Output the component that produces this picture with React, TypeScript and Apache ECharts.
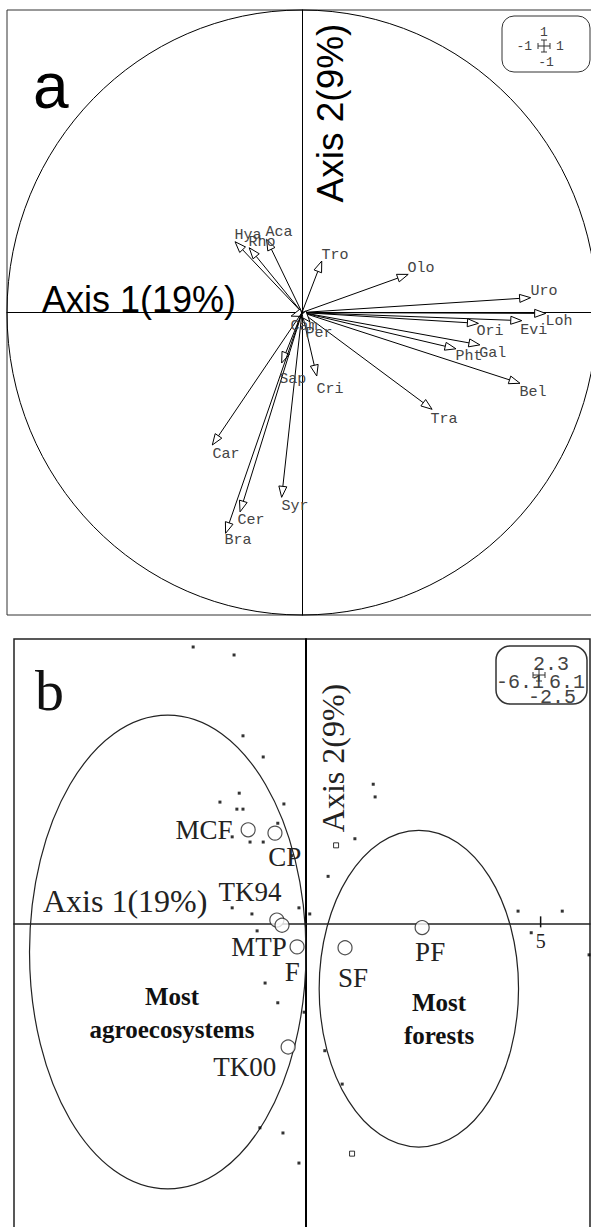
import React, { useEffect, useRef } from "react";
import * as echarts from "echarts";

// ---------- Panel a : correlation circle (species arrows) ----------
const species = ["Hya", "Rho", "Aca", "Tro", "Olo", "Uro", "Loh", "Evi", "Ori", "Gal", "Pht", "Bel", "Tra", "Cri", "Per", "Cam", "Sap", "Car", "Cer", "Bra", "Syr"];
const arrowX = [-0.227, -0.179, -0.12, 0.067, 0.36, 0.775, 0.826, 0.745, 0.598, 0.603, 0.522, 0.739, 0.441, 0.05, 0.027, -0.037, -0.069, -0.304, -0.21, -0.259, -0.069];
const arrowY = [0.234, 0.214, 0.242, 0.17, 0.126, 0.049, -0.003, -0.027, -0.036, -0.107, -0.12, -0.234, -0.32, -0.21, -0.031, -0.012, -0.167, -0.438, -0.659, -0.73, -0.611];
const labelX = [-0.183, -0.136, -0.078, 0.112, 0.403, 0.82, 0.871, 0.786, 0.637, 0.647, 0.566, 0.783, 0.481, 0.095, 0.058, 0.007, -0.031, -0.258, -0.173, -0.217, -0.024];
const labelY = [0.256, 0.233, 0.263, 0.187, 0.144, 0.068, -0.031, -0.058, -0.064, -0.137, -0.147, -0.263, -0.355, -0.253, -0.071, -0.045, -0.22, -0.468, -0.689, -0.755, -0.64];
const circleRadius = 1;

// ---------- Panel b : sites, groups and species points ----------
const sites = ["MCF", "CP", "TK94", "MTP", "F", "SF", "PF", "TK00"];
const siteX = [-1.22, -0.65, -0.61, -0.5, -0.18, 0.84, 2.48, -0.37];
const siteY = [1.99, 1.92, 0.07, -0.04, -0.5, -0.52, -0.09, -2.63];
const siteLabelX = [-2.16, -0.44, -1.18, -0.99, -0.28, 1.01, 2.65, -1.29];
const siteLabelY = [1.99, 1.41, 0.67, -0.5, -1.03, -1.16, -0.61, -3.06];

const groupNames = ["Most\nagroecosystems", "Most\nforests"];
const groupCx = [-2.93, 2.41];
const groupCy = [-0.61, -1.39];
const groupRx = [2.94, 2.12];
const groupRy = [5.04, 3.37];
const groupLabelX = [-2.84, 2.84];
const groupLabelY = [-1.91, -2.04];

const dotX = [-2.39, -1.52, -1.33, -0.9, -1.41, -1.82, -1.46, -1.33, -0.46, -1.56, -1.18, -0.9, -0.59, 1.44, 1.48, 1.05, 0.48, -1.56, -1.14, -0.14, 0.09, -1.03, -0.86, -0.59, -0.03, 0.41, 0.78, -0.97, -0.48, -0.14, 4.52, 5.46, 4.8, 6.03, -0.29];
const dotY = [5.88, 5.71, 3.99, 3.54, 2.77, 2.58, 2.43, 2.43, 2.54, 1.84, 1.73, 1.73, 2.13, 2.96, 2.69, 1.8, 1.0, 0.33, 0.2, 0.33, 0.2, -0.16, -1.27, -1.69, -1.89, -2.71, -3.42, -4.35, -4.46, -5.1, 0.26, 0.26, -0.2, -0.67, 1.44];
const openX = [0.65, 0.99];
const openY = [1.66, -4.9];
const bTicks = [5];

const MONO = "'Courier New', 'Liberation Mono', monospace";
const SANS = "'Liberation Sans', Arial, sans-serif";
const SERIF = "'Liberation Serif', 'Times New Roman', serif";

function txt(x: number, y: number, text: string, font: string, size: number, opts: any = {}) {
  return {
    type: "text",
    x,
    y,
    rotation: opts.rotation || 0,
    z: 20,
    style: {
      text,
      fontFamily: font,
      fontSize: size,
      fontWeight: opts.weight || "normal",
      fill: opts.color || "#111",
      align: opts.align || "left",
      verticalAlign: "middle",
      textAlign: opts.align || "left",
      textVerticalAlign: "middle",
    },
  };
}

function crossIcon(cx: number, cy: number) {
  const s = { stroke: "#333", lineWidth: 1 };
  const L = (x1: number, y1: number, x2: number, y2: number) => ({ type: "line", z: 20, shape: { x1, y1, x2, y2 }, style: s });
  return [
    L(cx - 6, cy, cx + 6, cy),
    L(cx, cy - 6, cx, cy + 6),
    L(cx - 6, cy - 3, cx - 6, cy + 3),
    L(cx + 6, cy - 3, cx + 6, cy + 3),
    L(cx - 3, cy - 6, cx + 3, cy - 6),
    L(cx - 3, cy + 6, cx + 3, cy + 6),
  ];
}

function buildOption() {
  const arrowData = species.map((n, i) => [arrowX[i], arrowY[i], n]);
  const arrowLabelData = species.map((n, i) => [labelX[i], labelY[i], n]);
  const siteData = sites.map((n, i) => [siteX[i], siteY[i], n]);
  const siteLabelData = sites.map((n, i) => [siteLabelX[i], siteLabelY[i], n]);
  const groupData = groupNames.map((n, i) => [groupCx[i], groupCy[i], groupRx[i], groupRy[i], n]);
  const groupLabelData = groupNames.map((n, i) => [groupLabelX[i], groupLabelY[i], n]);
  const dotData = dotX.map((x, i) => [x, dotY[i]]);
  const openData = openX.map((x, i) => [x, openY[i]]);

  const axisCommon = (min: number, max: number, gridIndex: number, color: string, width: number) => ({
    type: "value",
    gridIndex,
    min,
    max,
    axisLine: { show: true, onZero: true, lineStyle: { color, width } },
    axisTick: { show: false },
    axisLabel: { show: false },
    splitLine: { show: false },
  });

  return {
    animation: false,
    backgroundColor: "#fff",
    grid: [
      { left: 7, top: 10, width: 590, height: 605, show: true, borderColor: "#333", borderWidth: 1 },
      { left: 14, top: 639, width: 576, height: 620.4, show: true, borderColor: "#222", borderWidth: 1.5 },
    ],
    xAxis: [axisCommon(-1, 1, 0, "#000", 1), axisCommon(-6.2, 6.05, 1, "#222", 1.5)],
    yAxis: [axisCommon(-1, 1, 0, "#000", 1), axisCommon(-7.15, 6.05, 1, "#000", 2)],
    series: [
      {
        type: "custom",
        xAxisIndex: 0,
        yAxisIndex: 0,
        clip: false,
        data: [[0, 0, circleRadius]],
        renderItem: (params: any, api: any) => {
          const c = api.coord([api.value(0), api.value(1)]);
          const s = api.size([api.value(2), api.value(2)]);
          return { type: "ellipse", shape: { cx: c[0], cy: c[1], rx: s[0], ry: s[1] }, style: { fill: "none", stroke: "#000", lineWidth: 1 } };
        },
      },
      {
        type: "custom",
        xAxisIndex: 0,
        yAxisIndex: 0,
        z: 5,
        data: arrowData,
        renderItem: (params: any, api: any) => {
          const o = api.coord([0, 0]);
          const t = api.coord([api.value(0), api.value(1)]);
          const dx = t[0] - o[0];
          const dy = t[1] - o[1];
          const len = Math.hypot(dx, dy) || 1;
          const ux = dx / len;
          const uy = dy / len;
          const L = 11;
          const W = 4;
          const bx = t[0] - ux * L;
          const by = t[1] - uy * L;
          return {
            type: "group",
            children: [
              { type: "line", shape: { x1: o[0], y1: o[1], x2: bx, y2: by }, style: { stroke: "#000", lineWidth: 1 } },
              {
                type: "polygon",
                shape: { points: [[t[0], t[1]], [bx - uy * W, by + ux * W], [bx + uy * W, by - ux * W]] },
                style: { fill: "#fff", stroke: "#000", lineWidth: 1 },
              },
            ],
          };
        },
      },
      {
        type: "custom",
        xAxisIndex: 0,
        yAxisIndex: 0,
        z: 6,
        data: arrowLabelData,
        renderItem: (params: any, api: any) => {
          const p = api.coord([api.value(0), api.value(1)]);
          return {
            type: "text",
            x: p[0],
            y: p[1],
            style: { text: species[params.dataIndex], fontFamily: MONO, fontSize: 15, fill: "#444", align: "center", verticalAlign: "middle", textAlign: "center", textVerticalAlign: "middle" },
          };
        },
      },
      {
        type: "custom",
        xAxisIndex: 1,
        yAxisIndex: 1,
        clip: false,
        data: groupData,
        renderItem: (params: any, api: any) => {
          const c = api.coord([api.value(0), api.value(1)]);
          const s = api.size([api.value(2), api.value(3)]);
          return { type: "ellipse", shape: { cx: c[0], cy: c[1], rx: s[0], ry: s[1] }, style: { fill: "none", stroke: "#222", lineWidth: 1.2 } };
        },
      },
      {
        type: "scatter",
        xAxisIndex: 1,
        yAxisIndex: 1,
        symbol: "rect",
        symbolSize: 3,
        itemStyle: { color: "#000" },
        data: dotData,
      },
      {
        type: "scatter",
        xAxisIndex: 1,
        yAxisIndex: 1,
        symbol: "rect",
        symbolSize: 5,
        itemStyle: { color: "#fff", borderColor: "#000", borderWidth: 1 },
        data: openData,
      },
      {
        type: "custom",
        xAxisIndex: 1,
        yAxisIndex: 1,
        data: bTicks.map((v) => [v, 0]),
        renderItem: (params: any, api: any) => {
          const p = api.coord([api.value(0), 0]);
          return {
            type: "group",
            children: [
              { type: "line", shape: { x1: p[0], y1: p[1] - 7, x2: p[0], y2: p[1] + 4 }, style: { stroke: "#111", lineWidth: 1.5 } },
              {
                type: "text",
                x: p[0],
                y: p[1] + 18,
                style: { text: String(api.value(0)), fontFamily: SERIF, fontSize: 20, fill: "#222", align: "center", verticalAlign: "middle", textAlign: "center", textVerticalAlign: "middle" },
              },
            ],
          };
        },
      },
      {
        type: "scatter",
        xAxisIndex: 1,
        yAxisIndex: 1,
        symbol: "circle",
        symbolSize: 14,
        z: 4,
        itemStyle: { color: "#fff", borderColor: "#222", borderWidth: 1.2 },
        data: siteData,
      },
      {
        type: "custom",
        xAxisIndex: 1,
        yAxisIndex: 1,
        z: 6,
        data: siteLabelData,
        renderItem: (params: any, api: any) => {
          const p = api.coord([api.value(0), api.value(1)]);
          return {
            type: "text",
            x: p[0],
            y: p[1],
            style: { text: sites[params.dataIndex], fontFamily: SERIF, fontSize: 27, fill: "#222", align: "center", verticalAlign: "middle", textAlign: "center", textVerticalAlign: "middle" },
          };
        },
      },
      {
        type: "custom",
        xAxisIndex: 1,
        yAxisIndex: 1,
        z: 6,
        data: groupLabelData,
        renderItem: (params: any, api: any) => {
          const p = api.coord([api.value(0), api.value(1)]);
          return {
            type: "text",
            x: p[0],
            y: p[1],
            style: { text: groupNames[params.dataIndex], fontFamily: SERIF, fontSize: 25, fontWeight: "bold", lineHeight: 33, fill: "#111", align: "center", verticalAlign: "middle", textAlign: "center", textVerticalAlign: "middle" },
          };
        },
      },
    ],
    graphic: [
      // panel a texts
      txt(33, 86, "a", SANS, 64, { color: "#000" }),
      txt(42, 299, "Axis 1(19%)", SANS, 36, { color: "#000" }),
      txt(330, 113, "Axis 2(9%)", SANS, 37, { color: "#000", align: "center", rotation: Math.PI / 2 }),
      { type: "rect", z: 20, shape: { x: 502, y: 16, width: 88, height: 56, r: 12 }, style: { fill: "#fff", stroke: "#333", lineWidth: 1 } },
      txt(544, 32, "1", MONO, 13, { color: "#444", align: "center" }),
      txt(532, 46, "-1", MONO, 13, { color: "#444", align: "right" }),
      txt(556, 46, "1", MONO, 13, { color: "#444", align: "left" }),
      txt(546, 62, "-1", MONO, 13, { color: "#444", align: "center" }),
      ...crossIcon(544, 46),
      // panel b texts
      txt(35, 690, "b", SERIF, 58, { color: "#111" }),
      txt(43, 901, "Axis 1(19%)", SERIF, 32, { color: "#222" }),
      txt(333, 758, "Axis 2(9%)", SERIF, 32, { color: "#222", align: "center", rotation: Math.PI / 2 }),
      { type: "rect", z: 20, shape: { x: 496, y: 646, width: 91, height: 58, r: 14 }, style: { fill: "#fff", stroke: "#333", lineWidth: 1.5 } },
      txt(551, 664, "2.3", MONO, 20, { color: "#444", align: "center" }),
      txt(520, 682, "-6.1", MONO, 20, { color: "#444", align: "center" }),
      txt(567, 682, "6.1", MONO, 20, { color: "#444", align: "center" }),
      txt(552, 697, "-2.5", MONO, 20, { color: "#444", align: "center" }),
      ...crossIcon(539, 675),
    ],
  };
}

export default function App() {
  const ref = useRef<HTMLDivElement>(null);
  useEffect(() => {
    if (!ref.current) return;
    const chart = echarts.init(ref.current, null, { renderer: "svg" });
    chart.setOption(buildOption() as any);
    return () => chart.dispose();
  }, []);
  return (
    <div style={{ position: "fixed", left: 0, top: 0, width: 591, height: 1227, overflow: "hidden", background: "#fff" }}>
      <div ref={ref} style={{ width: 620, height: 1262 }} />
    </div>
  );
}
